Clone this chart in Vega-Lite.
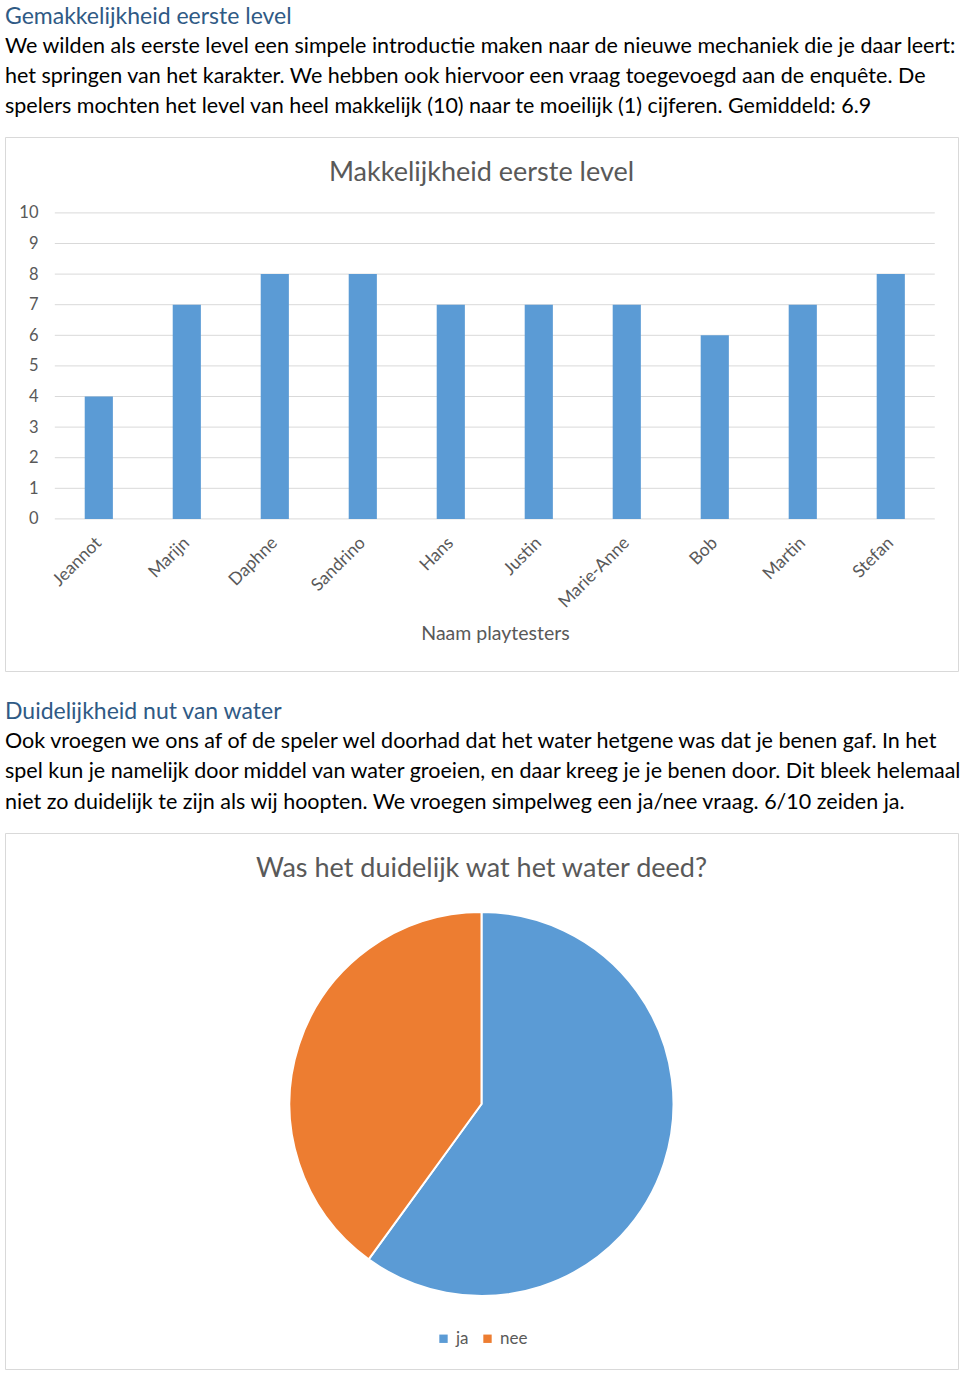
{
  "$schema": "https://vega.github.io/schema/vega-lite/v6.json",
  "padding": {"left": 4, "top": 5, "right": 0, "bottom": 0},
  "background": "white",
  "spacing": 28,
  "config": {
    "font": "Lato",
    "view": {"stroke": null},
    "legend": {"layout": {"bottom": {"anchor": "middle"}}}
  },
  "vconcat": [
    {
      "spacing": 8,
      "vconcat": [
        {
          "width": 953,
          "height": 6,
          "title": {
            "text": "Gemakkelijkheid eerste level",
            "subtitle": [
              "We wilden als eerste level een simpele introductie maken naar de nieuwe mechaniek die je daar leert:",
              "het springen van het karakter. We hebben ook hiervoor een vraag toegevoegd aan de enquête. De",
              "spelers mochten het level van heel makkelijk (10) naar te moeilijk (1) cijferen. Gemiddeld: 6.9"
            ],
            "anchor": "start",
            "frame": "group",
            "font": "Lato",
            "fontSize": 23,
            "fontWeight": "normal",
            "color": "#2F5A85",
            "subtitleFont": "Lato",
            "subtitleFontSize": 21.5,
            "subtitleColor": "#000000",
            "subtitleLineHeight": 30,
            "subtitlePadding": 7,
            "offset": 0
          },
          "data": {"values": [{"t": ""}]},
          "mark": {"type": "text"},
          "encoding": {"text": {"field": "t"}}
        },
        {
          "width": 953,
          "height": 534,
          "view": {"stroke": "#d9d9d9", "strokeWidth": 1},
          "title": {
            "text": "Makkelijkheid eerste level",
            "anchor": "middle",
            "frame": "group",
            "fontSize": 27,
            "fontWeight": "normal",
            "color": "#595959",
            "offset": -50
          },
          "layer": [
            {
              "data": {"values": [{"v": 0}, {"v": 1}, {"v": 2}, {"v": 3}, {"v": 4}, {"v": 5}, {"v": 6}, {"v": 7}, {"v": 8}, {"v": 9}, {"v": 10}]},
              "mark": {"type": "rule", "color": "#d9d9d9", "strokeWidth": 1},
              "encoding": {
                "y": {"field": "v", "type": "quantitative"},
                "x": {"datum": "Jeannot", "bandPosition": -1.0625},
                "x2": {"datum": "Stefan", "bandPosition": 2.0625}
              }
            },
            {
              "data": {
                "values": [
                  {"naam": "Jeannot", "score": 4},
                  {"naam": "Marijn", "score": 7},
                  {"naam": "Daphne", "score": 8},
                  {"naam": "Sandrino", "score": 8},
                  {"naam": "Hans", "score": 7},
                  {"naam": "Justin", "score": 7},
                  {"naam": "Marie-Anne", "score": 7},
                  {"naam": "Bob", "score": 6},
                  {"naam": "Martin", "score": 7},
                  {"naam": "Stefan", "score": 8}
                ]
              },
              "mark": {"type": "bar", "color": "#5B9BD5"},
              "encoding": {
                "x": {
                  "field": "naam",
                  "type": "nominal",
                  "sort": null,
                  "scale": {
                    "domain": ["Jeannot", "Marijn", "Daphne", "Sandrino", "Hans", "Justin", "Marie-Anne", "Bob", "Martin", "Stefan"],
                    "paddingInner": 0.68,
                    "paddingOuter": 0.755,
                    "align": 0.6
                  },
                  "axis": {
                    "offset": -152,
                    "domain": false,
                    "ticks": false,
                    "grid": false,
                    "labelAngle": -45,
                    "labelFontSize": 17.5,
                    "labelColor": "#595959",
                    "labelPadding": 21,
                    "title": "Naam playtesters",
                    "titleFontSize": 19.5,
                    "titleFontWeight": "normal",
                    "titleColor": "#595959",
                    "titlePadding": 14,
                    "titleX": 490
                  }
                },
                "y": {
                  "field": "score",
                  "type": "quantitative",
                  "scale": {"domain": [-4.97, 12.48], "nice": false, "zero": false},
                  "axis": {
                    "values": [0, 1, 2, 3, 4, 5, 6, 7, 8, 9, 10],
                    "offset": -35,
                    "domain": false,
                    "ticks": false,
                    "grid": false,
                    "labelFontSize": 16.5,
                    "labelColor": "#595959",
                    "labelPadding": 2,
                    "title": null
                  }
                },
                "y2": {"datum": 0}
              }
            }
          ]
        }
      ]
    },
    {
      "spacing": 8,
      "vconcat": [
        {
          "width": 953,
          "height": 4,
          "title": {
            "text": "Duidelijkheid nut van water",
            "subtitle": [
              "Ook vroegen we ons af of de speler wel doorhad dat het water hetgene was dat je benen gaf. In het",
              "spel kun je namelijk door middel van water groeien, en daar kreeg je je benen door. Dit bleek helemaal",
              "niet zo duidelijk te zijn als wij hoopten. We vroegen simpelweg een ja/nee vraag. 6/10 zeiden ja."
            ],
            "anchor": "start",
            "frame": "group",
            "font": "Lato",
            "fontSize": 23,
            "fontWeight": "normal",
            "color": "#2F5A85",
            "subtitleFont": "Lato",
            "subtitleFontSize": 21.5,
            "subtitleColor": "#000000",
            "subtitleLineHeight": 30.5,
            "subtitlePadding": 7,
            "offset": 0
          },
          "data": {"values": [{"t": ""}]},
          "mark": {"type": "text"},
          "encoding": {"text": {"field": "t"}}
        },
        {
          "width": 953,
          "height": 536,
          "view": {"stroke": "#d9d9d9", "strokeWidth": 1},
          "title": {
            "text": "Was het duidelijk wat het water deed?",
            "anchor": "middle",
            "frame": "group",
            "fontSize": 27,
            "fontWeight": "normal",
            "color": "#595959",
            "offset": -50
          },
          "data": {
            "values": [
              {"antwoord": "ja", "aantal": 6},
              {"antwoord": "nee", "aantal": 4}
            ]
          },
          "mark": {"type": "arc", "outerRadius": 192, "stroke": "white", "strokeWidth": 2, "yOffset": 3},
          "encoding": {
            "theta": {"field": "aantal", "type": "quantitative", "stack": true},
            "order": {"field": "antwoord", "sort": "ascending"},
            "color": {
              "field": "antwoord",
              "type": "nominal",
              "scale": {"domain": ["ja", "nee"], "range": ["#5B9BD5", "#ED7D31"]},
              "legend": {
                "title": null,
                "orient": "bottom",
                "offset": -40,
                "direction": "horizontal",
                "symbolType": "square",
                "symbolSize": 70,
                "symbolStrokeWidth": 0,
                "labelFontSize": 17,
                "labelColor": "#595959",
                "columnPadding": 10
              }
            }
          }
        }
      ]
    }
  ]
}
